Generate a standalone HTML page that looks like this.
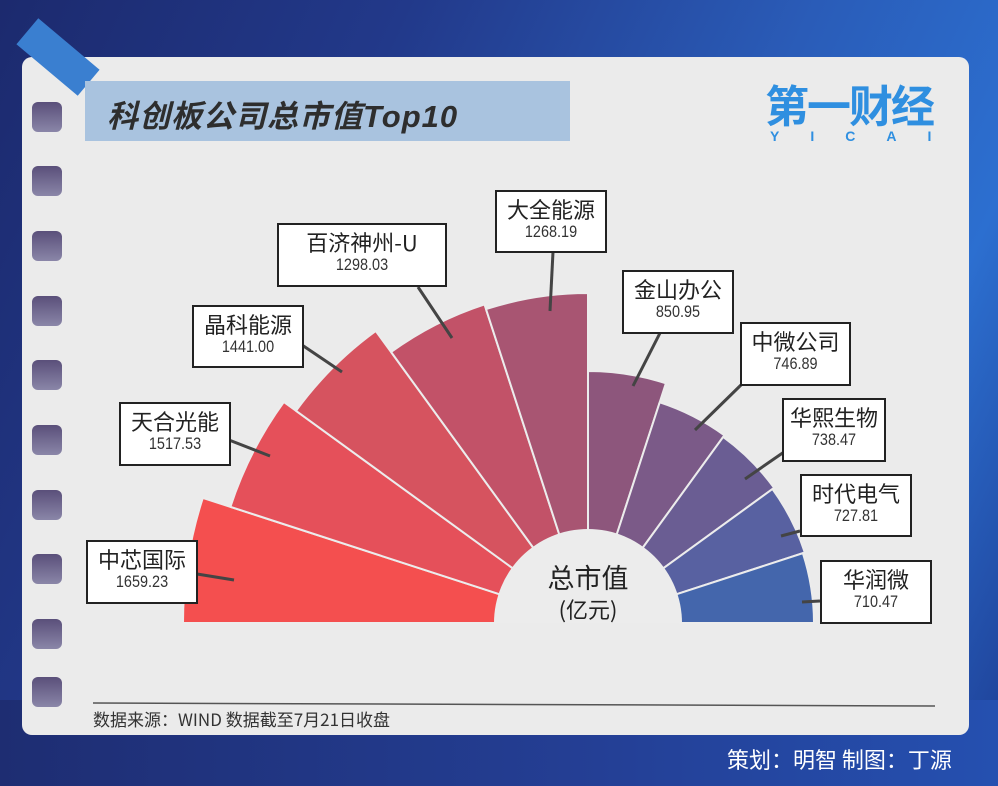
<!DOCTYPE html>
<html><head><meta charset="utf-8"><style>
html,body{margin:0;padding:0}
body{width:998px;height:786px;overflow:hidden;position:relative;font-family:"Liberation Sans","Noto Sans CJK SC",sans-serif;
background:linear-gradient(115deg,#1c2a6e 0%,#22398a 30%,#2a5cb8 60%,#2c6fd0 80%,#1e3f95 100%);}
.bot{position:absolute;left:0;top:700px;width:998px;height:86px;background:linear-gradient(90deg,#1e2d72,#243f95 60%,#2550b0);}
.card{position:absolute;left:22px;top:57px;width:947px;height:678px;background:#ebebeb;border-radius:10px;}
.hole{position:absolute;left:32px;width:30px;height:30px;border-radius:6px;background:linear-gradient(180deg,#5a4f7a,#8a86a8);}
.tape{position:absolute;left:18px;top:40px;width:80px;height:34px;background:#3a7fd0;transform:rotate(40deg);}
.title{position:absolute;left:85px;top:81px;width:485px;height:60px;background:#a9c3df;}
.title span{position:absolute;left:22px;top:10px;font-size:31px;font-weight:bold;font-style:italic;color:#2e2e2e;letter-spacing:1px;}
.logo{position:absolute;left:765px;top:80px;color:#2f8fe0;font-size:44px;font-weight:bold;letter-spacing:-2px;font-family:"Noto Sans CJK SC",sans-serif;line-height:46px}
.yicai{position:absolute;left:770px;top:128px;color:#2f8fe0;font-size:14px;font-weight:bold;letter-spacing:31px}
.box{position:absolute;background:#fff;border:2px solid #222;box-sizing:border-box;text-align:center;}
.box .n{font-size:22px;color:#222;line-height:26px;margin-top:4px;font-family:"Noto Sans CJK SC",sans-serif}
.box .v{font-size:17px;color:#333;line-height:20px;font-family:"Liberation Sans Narrow","Liberation Sans",sans-serif;transform:scaleX(0.85)}
.src{position:absolute;left:93px;top:706px;font-size:17px;color:#333;font-family:"Noto Sans CJK SC",sans-serif}
.credit{position:absolute;left:727px;top:743px;font-size:22px;color:#fff;font-family:"Noto Sans CJK SC",sans-serif}
</style></head><body>
<div class="bot"></div>
<div class="card"></div>
<div class="tape"></div>
<div class="hole" style="top:102px"></div>
<div class="hole" style="top:166px"></div>
<div class="hole" style="top:231px"></div>
<div class="hole" style="top:296px"></div>
<div class="hole" style="top:360px"></div>
<div class="hole" style="top:425px"></div>
<div class="hole" style="top:490px"></div>
<div class="hole" style="top:554px"></div>
<div class="hole" style="top:619px"></div>
<div class="hole" style="top:677px"></div>
<div class="title"><span>科创板公司总市值Top10</span></div>
<div class="logo">第一财经</div>
<div class="yicai">YICAI</div>
<svg style="position:absolute;left:0;top:0" width="998" height="786">
<g stroke="#ececec" stroke-width="2" stroke-linejoin="round">
<path d="M496,623 L183,623 A405,405 0 0 1 202.8,497.9 L500.5,594.6 Z" fill="#f44f4f"/>
<path d="M500.5,594.6 L230.4,506.8 A376,376 0 0 1 283.8,402 L513.6,568.9 Z" fill="#e5505a"/>
<path d="M513.6,568.9 L296,410.8 A361,361 0 0 1 375.8,331 L533.9,548.6 Z" fill="#d6535f"/>
<path d="M533.9,548.6 L391.1,352 A335,335 0 0 1 484.5,304.4 L559.6,535.5 Z" fill="#c25268"/>
<path d="M559.6,535.5 L486,309.1 A330,330 0 0 1 588,293 L588,531 Z" fill="#a85572"/>
<path d="M588,531 L588,371 A252,252 0 0 1 665.9,383.3 L616.4,535.5 Z" fill="#8d567c"/>
<path d="M616.4,535.5 L659.7,402.3 A232,232 0 0 1 724.4,435.3 L642.1,548.6 Z" fill="#7b5a88"/>
<path d="M642.1,548.6 L723.2,436.9 A230,230 0 0 1 774.1,487.8 L662.4,568.9 Z" fill="#6a5d93"/>
<path d="M662.4,568.9 L772.5,489 A228,228 0 0 1 804.8,552.5 L675.5,594.6 Z" fill="#5861a1"/>
<path d="M675.5,594.6 L802.9,553.2 A226,226 0 0 1 814,623 L680,623 Z" fill="#4466ac"/>
</g>
<path d="M494,623 A94,94 0 0 1 682,623 Z" fill="#ececec"/>
<text x="588" y="588" font-size="27" text-anchor="middle" fill="#222" font-family="Noto Sans CJK SC,sans-serif">总市值</text>
<text x="588" y="618" font-size="22" text-anchor="middle" fill="#222" font-family="Noto Sans CJK SC,sans-serif">(亿元)</text>
<g stroke="#444" stroke-width="3">
<line x1="197" y1="574" x2="234" y2="580"/>
<line x1="229" y1="440" x2="270" y2="456"/>
<line x1="302" y1="345" x2="342" y2="372"/>
<line x1="418" y1="287" x2="452" y2="338"/>
<line x1="553" y1="252" x2="550" y2="311"/>
<line x1="660" y1="333" x2="633" y2="386"/>
<line x1="742" y1="384" x2="695" y2="430"/>
<line x1="784" y1="452" x2="745" y2="479"/>
<line x1="800" y1="531" x2="781" y2="536"/>
<line x1="820" y1="601" x2="802" y2="602"/>
<line x1="93" y1="703" x2="935" y2="706" stroke-width="1.5" stroke="#555"/>
</g>
</svg>
<div class="box" style="left:86px;top:540px;width:112px;height:64px"><div class="n">中芯国际</div><div class="v">1659.23</div></div>
<div class="box" style="left:119px;top:402px;width:112px;height:64px"><div class="n">天合光能</div><div class="v">1517.53</div></div>
<div class="box" style="left:192px;top:305px;width:112px;height:63px"><div class="n">晶科能源</div><div class="v">1441.00</div></div>
<div class="box" style="left:277px;top:223px;width:170px;height:64px"><div class="n">百济神州-U</div><div class="v">1298.03</div></div>
<div class="box" style="left:495px;top:190px;width:112px;height:63px"><div class="n">大全能源</div><div class="v">1268.19</div></div>
<div class="box" style="left:622px;top:270px;width:112px;height:64px"><div class="n">金山办公</div><div class="v">850.95</div></div>
<div class="box" style="left:740px;top:322px;width:111px;height:64px"><div class="n">中微公司</div><div class="v">746.89</div></div>
<div class="box" style="left:782px;top:398px;width:104px;height:64px"><div class="n">华熙生物</div><div class="v">738.47</div></div>
<div class="box" style="left:800px;top:474px;width:112px;height:63px"><div class="n">时代电气</div><div class="v">727.81</div></div>
<div class="box" style="left:820px;top:560px;width:112px;height:64px"><div class="n">华润微</div><div class="v">710.47</div></div>
<div class="src">数据来源：WIND 数据截至7月21日收盘</div>
<div class="credit">策划：明智 制图：丁源</div>
</body></html>
